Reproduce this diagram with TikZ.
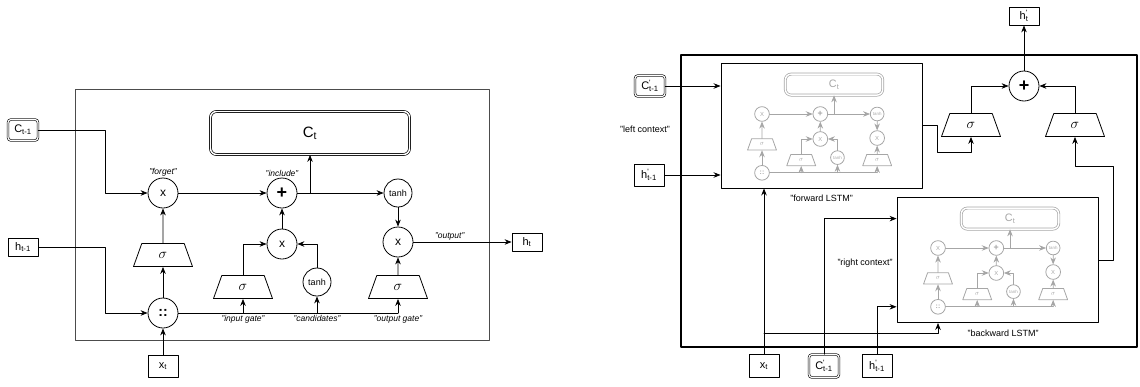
\documentclass[tikz,border=0pt]{standalone}
\usepackage{fontspec}
\setmainfont{Liberation Sans}
\usetikzlibrary{arrows.meta,shapes.geometric,positioning}

\newcommand{\cellmul}{x}
\newcommand{\primed}[2]{#1\rlap{\textsuperscript{\textquotesingle}}\textsubscript{#2}}
\newcommand{\plussym}{\fontsize{18}{18}\selectfont\textbf{+}}

\tikzset{
  >={Stealth[length=7pt,width=5.5pt]},
  mulsym/.store in=\cellmul,
  wire/.style={line width=0.8pt},
  gate/.style={circle, draw, line width=0.8pt, minimum size=30pt, inner sep=0pt, font=\fontsize{12}{12}\selectfont},
  tanhgate/.style={minimum size=28pt, font=\fontsize{9}{9}\selectfont},
  sig/.style={trapezium, draw, line width=0.8pt, trapezium left angle=75, trapezium right angle=75,
    trapezium stretches=true, minimum width=59pt, minimum height=23pt, inner sep=0pt, font=\fontsize{14}{14}\selectfont},
  ctbox/.style={draw, line width=0.7pt, double, double distance=1.4pt, rounded corners=6pt,
    minimum width=199pt, minimum height=43pt, font=\fontsize{15}{15}\selectfont},
  iobox/.style={draw, line width=0.8pt, minimum width=30pt, minimum height=18pt, inner sep=1pt, font=\fontsize{11}{11}\selectfont},
  statebox/.style={iobox, line width=0.6pt, double, double distance=1.2pt, rounded corners=3pt, minimum height=21pt},
  gatelabel/.style={font=\fontsize{8.5}{8.5}\selectfont\itshape, inner sep=1pt},
  note/.style={font=\fontsize{9}{9}\selectfont, inner sep=1pt},
  cellbox/.style={draw, line width=0.9pt, minimum width=201pt, minimum height=125pt, inner sep=0pt},
  cellmini/.style={scale=0.49, transform shape, black!35, mulsym=X,
    ctbox/.append style={font=\fontsize{22}{22}\selectfont}},
  pics/lstmcell/.style={code={
    % gates
    \node[gate] (forget)  at (0,0)     {\cellmul};
    \node[gate] (include) at (119,0)   {\plussym};
    \node[gate, tanhgate] (tanhout) at (235,0) {tanh};
    \node[gate] (input)   at (119,-51) {\cellmul};
    \node[gate] (output)  at (235,-49) {\cellmul};
    \node[gate, tanhgate] (tanhin) at (154,-89) {tanh};
    \node[gate] (concat)  at (0,-120)  {\fontsize{14}{14}\selectfont\textbf{::}};
    \node[sig] (sigf) at (0,-62)   {$\sigma$};
    \node[sig] (sigi) at (80,-94)  {$\sigma$};
    \node[sig] (sigo) at (235,-94) {$\sigma$};
    \node[ctbox] (ct) at (147,60) {C\textsubscript{t}};
    % taps
    \coordinate (split)  at (147,0);
    \coordinate (tapi)   at (80,-120);
    \coordinate (tapc)   at (154,-120);
    \coordinate (busend) at (235,-120);
    % wires
    \draw[wire,->] (forget) -- (include);
    \draw[wire,->] (include) -- (tanhout);
    \draw[wire,->] (split) -- (ct);
    \draw[wire,->] (input) -- (include);
    \draw[wire,->] (tanhout) -- (output);
    \draw[wire,->] (concat) -- (sigf);
    \draw[wire,->] (sigf) -- (forget);
    \draw[wire] (concat) -- (busend);
    \draw[wire,->] (tapi) -- (sigi);
    \draw[wire,->] (tapc) -- (tanhin);
    \draw[wire,->] (busend) -- (sigo);
    \draw[wire,->] (sigi) |- (input);
    \draw[wire,->] (tanhin) |- (input);
    \draw[wire,->] (sigo) -- (output);
  }},
}

\begin{document}
\begin{tikzpicture}[x=1pt, y=1pt, line cap=round, line join=round]
  \useasboundingbox (0,0) rectangle (1140,-386);

  % Single LSTM cell
  \draw[black!70, line width=0.8pt] (75,-89) rectangle (489,-340);
  \pic (L) at (163,-193) {lstmcell};

  \node[statebox] (Lcprev) at (23,-130) {C\textsubscript{t-1}};
  \node[iobox] (Lhprev) at (23,-247) {h\textsubscript{t-1}};
  \node[iobox, minimum height=22pt] (Lx) at (163,-366) {x\textsubscript{t}};
  \node[iobox] (Lht) at (527,-242) {h\textsubscript{t}};
  \coordinate (Lcin) at (105,-130);
  \coordinate (Lhin) at (105,-247);

  \draw[wire,->] (Lcprev) -- (Lcin) |- (Lforget);
  \draw[wire,->] (Lhprev) -- (Lhin) |- (Lconcat);
  \draw[wire,->] (Lx) -- (Lconcat);
  \draw[wire,->] (Loutput) -- node[gatelabel, above, pos=0.37] {"output"} (Lht);

  % Gate labels
  \node[gatelabel, above=0pt of Lforget] {"forget"};
  \node[gatelabel, above=0pt of Linclude] {"include"};
  \node[gatelabel, below=1pt of Ltapi] {"input gate"};
  \node[gatelabel, below=1pt of Ltapc] {"candidates"};
  \node[gatelabel, below=1pt of Lbusend] {"output gate"};

  % Bidirectional layer
  \draw[line width=1.8pt] (681,-55) rectangle (1137,-347);
  \node[cellbox] (fwd) at (821.5,-125.5) {};
  \node[cellbox] (bwd) at (997.5,-260) {};
  \pic[cellmini] (F) at (762,-114) {lstmcell};
  \pic[cellmini] (B) at (938,-248) {lstmcell};

  % left context
  \node[statebox] (Fcprev) at (650,-86) {\primed{C}{t-1}};
  \node[iobox, minimum height=22pt] (Fhprev) at (649,-175) {\primed{h}{t-1}};
  \draw[wire,->] (Fcprev) -- (Fcprev -| fwd.west);
  \draw[wire,->] (Fhprev) -- (Fhprev -| fwd.west);

  % inputs from below
  \node[iobox, minimum height=23pt] (Rx) at (764,-366) {x\textsubscript{t}};
  \node[statebox, minimum height=23pt] (Bcprev) at (824,-366) {\primed{C}{t-1}};
  \node[iobox, minimum height=23pt] (Bhprev) at (877,-366) {\primed{h}{t-1}};
  \coordinate (Rxsplit) at (764,-333);
  \draw[wire,->] (Rx) -- (Rx |- fwd.south);
  \draw[wire,->] (Rxsplit) -| (Bconcat |- bwd.south);
  \draw[wire,->] (Bcprev) |- (bwd.west |- Bct);
  \draw[wire,->] (Bhprev) |- (bwd.west |- Bconcat);

  % merge of both directions
  \node[sig] (sigl) at (971,-125) {$\sigma$};
  \node[sig] (sigr) at (1075,-125) {$\sigma$};
  \node[gate] (sum) at (1024,-86) {\plussym};
  \node[iobox] (Rht) at (1024,-16) {\primed{h}{t}};
  \coordinate (fturn) at (937,-152);
  \coordinate (bturn) at (1113,-166);
  \draw[wire,->] (fwd.east |- sigl) -| (fturn) -| (sigl.south);
  \draw[wire,->] (bwd.east) -| (bturn) -| (sigr.south);
  \draw[wire,->] (sigl) |- (sum);
  \draw[wire,->] (sigr) |- (sum);
  \draw[wire,->] (sum) -- (Rht);

  % Labels
  \node[note] at (645,-129) {"left context"};
  \node[note, below=5pt of fwd] {"forward LSTM"};
  \node[note] at (865,-263) {"right context"};
  \node[note] at (1003,-333) {"backward LSTM"};

\end{tikzpicture}
\end{document}
